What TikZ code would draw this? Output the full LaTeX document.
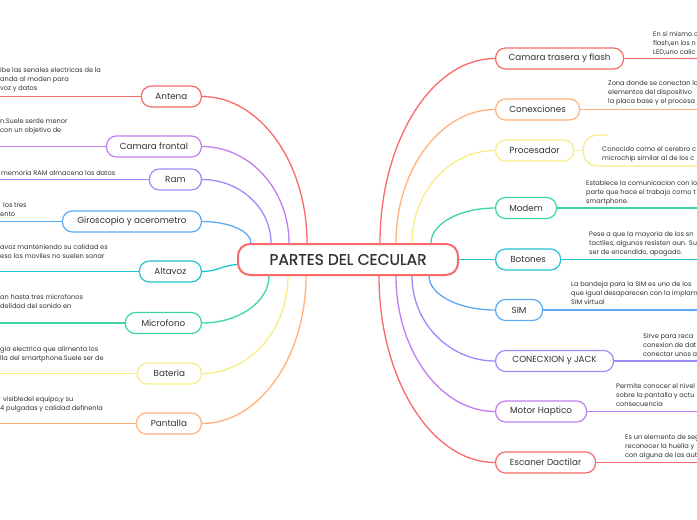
\documentclass[tikz,border=0pt]{standalone}
\usepackage{fontspec}
\setmainfont{Poppins}
\newfontfamily\titlefont{Poppins}[FakeBold=0.6]
\usetikzlibrary{calc}
\definecolor{cred}{HTML}{F86A6A}
\definecolor{corange}{HTML}{FFB27C}
\definecolor{cyellow}{HTML}{F8EC86}
\definecolor{cgreen}{HTML}{3DD6A3}
\definecolor{ccyan}{HTML}{20C3D3}
\definecolor{cblue}{HTML}{5AABF5}
\definecolor{clav}{HTML}{9C8CF9}
\definecolor{cpurple}{HTML}{C07EF0}
\definecolor{txt}{HTML}{333333}
\newcommand\brcurve[3]{\draw[#1,conn] (#2) .. controls ($(#2)!0.55!(#2|-#3)$) and ($(#3)!0.55!(#3-|#2)$) .. (#3);}
\begin{document}
\begin{tikzpicture}[x=1pt,y=-1pt,
  conn/.style={line width=1.3pt},
  brbox/.style={draw=#1, fill=white, rounded corners=10pt, line width=1.2pt, minimum height=21pt, inner sep=0pt, font=\fontsize{8.8}{10}\selectfont, text=txt},
  brL/.style={brbox=#1, anchor=east},
  brR/.style={brbox=#1, anchor=west},
  centerbox/.style={draw=cred, fill=white, line width=2pt, rounded corners=12pt, minimum width=220pt, minimum height=31pt, inner sep=0pt, font=\titlefont\fontsize{15.5}{17}\selectfont, text=txt},
  desc/.style={align=left, inner sep=0pt, anchor=north west, font=\fontsize{6.6}{9}\selectfont, text=txt}]
\clip (0,0) rectangle (697,520);
\fill[white] (0,0) rectangle (697,520);
\coordinate (L) at (0,0);
\coordinate (R) at (697,0);
% center
\node[centerbox] (c) at (348,259.5) {PARTES DEL CECULAR};
% left nodes
\node[brL=cred, minimum width=60pt] (ant) at (202,96.5) {Antena};
\node[brL=cpurple, minimum width=95pt] (cfr) at (202,146.5) {Camara frontal};
\node[brL=clav, minimum width=52pt] (ram) at (202,179.5) {Ram};
\node[brL=cblue, minimum width=139pt] (gir) at (202,221.5) {Giroscopio y acerometro};
\node[brL=ccyan, minimum width=62pt] (alt) at (202,271.5) {Altavoz};
\node[brL=cgreen, minimum width=76pt] (mic) at (202,323) {Microfono};
\node[brL=cyellow, minimum width=64pt] (bat) at (202,373.5) {Bateria};
\node[brL=corange, minimum width=65pt] (pan) at (202,423.5) {Pantalla};
% right nodes
\node[brR=cred, minimum width=128pt] (ctr) at (495,58.5) {Camara trasera y flash};
\node[brR=corange, minimum width=84pt] (con) at (495,109.5) {Conexciones};
\node[brR=cyellow, minimum width=78pt] (pro) at (495,150.5) {Procesador};
\node[brR=cgreen, minimum width=61pt] (mod) at (495,208) {Modem};
\node[brR=ccyan, minimum width=65pt] (bot) at (495,259.5) {Botones};
\node[brR=cblue, minimum width=47pt] (sim) at (495,310) {SIM};
\node[brR=clav, minimum width=118pt] (jac) at (495,361) {CONECXION y JACK};
\node[brR=cpurple, minimum width=91pt] (mot) at (495,411.5) {Motor Haptico};
\node[brR=cred, minimum width=100pt] (esc) at (495,462.5) {Escaner Dactilar};
% start points on the central node
\coordinate (s1) at ([xshift=70pt]c.north west);
\coordinate (s2) at ([xshift=52pt]c.north west);
\coordinate (s3) at ([xshift=34pt]c.north west);
\coordinate (s4) at ([xshift=14pt]c.north west);
\coordinate (s5) at ([yshift=-5pt]c.west);
\coordinate (s6) at ([xshift=32pt]c.south west);
\coordinate (s7) at ([xshift=51pt]c.south west);
\coordinate (s8) at ([xshift=69pt]c.south west);
\coordinate (r1) at ([xshift=143pt]c.north west);
\coordinate (r2) at ([xshift=159pt]c.north west);
\coordinate (r3) at ([xshift=175pt]c.north west);
\coordinate (r4) at ([xshift=194pt]c.north west);
\coordinate (r6) at ([xshift=192pt]c.south west);
\coordinate (r7) at ([xshift=175pt]c.south west);
\coordinate (r8) at ([xshift=159pt]c.south west);
\coordinate (r9) at ([xshift=142pt]c.south west);
% connectors
\brcurve{cred}{s1}{ant.east}
\brcurve{cpurple}{s2}{cfr.east}
\brcurve{clav}{s3}{ram.east}
\brcurve{cblue}{s4}{gir.east}
\draw[ccyan,conn] (s5) .. controls +(-15,1) and +(15,0) .. (alt.east);
\brcurve{cgreen}{s6}{mic.east}
\brcurve{cyellow}{s7}{bat.east}
\brcurve{corange}{s8}{pan.east}
\brcurve{cred}{r1}{ctr.west}
\brcurve{corange}{r2}{con.west}
\brcurve{cyellow}{r3}{pro.west}
\brcurve{cgreen}{r4}{mod.west}
\draw[ccyan,conn] (c.east) -- (bot.west);
\brcurve{cblue}{r6}{sim.west}
\brcurve{clav}{r7}{jac.west}
\brcurve{cpurple}{r8}{mot.west}
\brcurve{cred}{r9}{esc.west}
% horizontal branch lines
\draw[cred,conn] (ant.west) -- (ant.west -| L);
\draw[cpurple,conn] (cfr.west) -- (cfr.west -| L);
\draw[clav,conn] (ram.west) -- (ram.west -| L);
\draw[cblue,conn] (gir.west) -- (gir.west -| L);
\draw[ccyan,conn] (alt.west) -- (alt.west -| L);
\draw[cgreen,conn] (mic.west) -- (mic.west -| L);
\draw[cyellow,conn] (bat.west) -- (bat.west -| L);
\draw[corange,conn] (pan.west) -- (pan.west -| L);
\draw[cred,conn] (ctr.east) -- (ctr.east -| R);
\draw[corange,conn] (con.east) -- (con.east -| R);
\coordinate (pb) at (583,150.5);
\draw[cyellow,conn] (pro.east) -- (pb);
\draw[cyellow,conn] (607,135) -- (598,135) .. controls (589,135) and (583,142) .. (pb) .. controls (583,159) and (589,166) .. (598,166) -- (697,166);
\draw[cgreen,conn] (mod.east) -- (mod.east -| R);
\draw[ccyan,conn] (bot.east) -- (bot.east -| R);
\draw[cblue,conn] (sim.east) -- (sim.east -| R);
\draw[clav,conn] (jac.east) -- (jac.east -| R);
\draw[cpurple,conn] (mot.east) -- (mot.east -| R);
\draw[cred,conn] (esc.east) -- (esc.east -| R);
% left texts
\node[desc] (tant) at (0,67.5) {ibe las senales electricas de la\\anda al moden para\\voz y datos};
\node[desc] (tcfr) at (0,118) {n.Suele serde menor\\con un objetivo de};
\node[desc] (tram) at (1,170) {memoria RAM almacena los datos};
\node[desc] (tgir) at (0,202) {\hspace*{3pt}los tres\\ento};
\node[desc] (talt) at (0,244) {avoz manteniendo su calidad es\\eso los moviles no suelen sonar};
\node[desc] (tmic) at (0,294) {an hasta tres microfonos\\delidad del sonido en};
\node[desc] (tbat) at (0,346) {gia electrica que alimenta los\\lla del smartphone.Suele ser de};
\node[desc] (tpan) at (0,396) {\hspace*{3pt}visibledel equipo,y su\\4 pulgadas y calidad definenla};
% right texts
\node[desc] (tctr) at (653,31) {En si mismo c\\flash,en los n\\LED,uno calic};
\node[desc] (tcon) at (608,80) {Zona donde se conectan lo\\elementos del dispositivo\\la placa base y el procesa};
\node[desc] (tpro) at (602,146) {Conocido como el cerebro c\\microchip similar al de los c};
\node[desc] (tmod) at (586,180) {Establece la comunicacion con lo\\parte que hace el trabajo como t\\smartphone.};
\node[desc] (tbot) at (589,231) {Pese a que la mayoria de los sn\\tactiles, algunos resisten aun. Su\\ser de encendido, apagado.};
\node[desc] (tsim) at (571,281) {La bandeja para la SIM es uno de los\\que igual desaparecen con la implam\\SIM virtual};
\node[desc] (tjac) at (643,333) {Sirve para reca\\conexion de dat\\conectar unos a};
\node[desc] (tmot) at (616,383) {Permite conocer el nivel\\sobre la pantalla y actu\\consecuencia};
\node[desc] (tesc) at (625,434) {Es un elemento de seg\\reconocer la huella y\\con alguna de las aut};
\end{tikzpicture}
\end{document}
